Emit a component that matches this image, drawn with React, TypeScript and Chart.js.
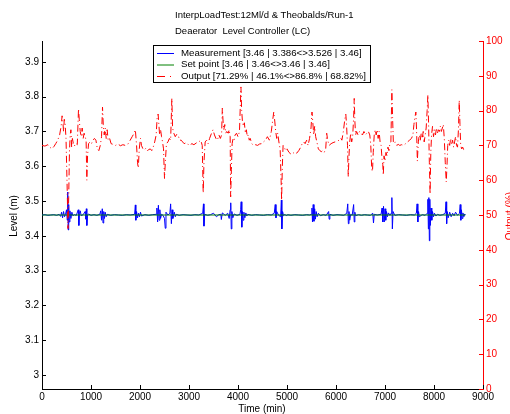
import React, { useEffect, useRef } from "react";
import { Chart, registerables } from "chart.js";

Chart.register(...registerables);

const titleLines = ["InterpLoadTest:12Ml/d & Theobalds/Run-1", "Deaerator  Level Controller (LC)"];
const legendLabels = [
  "Measurement [3.46 | 3.386<>3.526 | 3.46]",
  "Set point [3.46 | 3.46<>3.46 | 3.46]",
  "Output [71.29% | 46.1%<>86.8% | 68.82%]",
];
const leftTicks = [3, 3.1, 3.2, 3.3, 3.4, 3.5, 3.6, 3.7, 3.8, 3.9];

// Output (%) series
const outTime = [
  0, 60, 120, 160, 200, 240, 280, 320, 360, 390, 410, 425, 440, 455, 470, 490, 510, 530, 545, 560, 575, 590, 605, 620, 640, 660, 690, 720, 745, 760, 780, 800, 820, 840, 860, 880, 900, 915, 930, 950, 980, 1010, 1040, 1070, 1100, 1130, 1160, 1190, 1215, 1235, 1250, 1270, 1290, 1310, 1330, 1350, 1380, 1410, 1450, 1500, 1550, 1600, 1650, 1700, 1750, 1800, 1840, 1880, 1905, 1930, 1950, 1965, 1985, 2010, 2030, 2060, 2090, 2120, 2150, 2180, 2210, 2240, 2270, 2300, 2330, 2350, 2370, 2385, 2400, 2420, 2440, 2460, 2480, 2500, 2520, 2540, 2570, 2600, 2625, 2650, 2665, 2690, 2720, 2750, 2780, 2810, 2840, 2870, 2900, 2950, 3000, 3060,
  3100, 3160, 3200, 3240, 3270, 3290, 3305, 3330, 3360, 3390, 3420, 3460, 3490, 3520, 3550, 3580, 3610, 3640, 3665, 3680, 3695, 3710, 3730, 3750, 3770, 3800, 3820, 3840, 3850, 3865, 3880, 3900, 3920, 3940, 3970, 4000, 4030, 4060, 4075, 4090, 4110, 4130, 4150, 4170, 4190, 4210, 4230, 4250, 4280, 4320, 4360, 4400, 4440, 4480, 4520, 4560, 4600, 4640, 4680, 4710, 4730, 4750, 4770, 4790, 4810, 4840, 4860, 4880, 4890, 4905, 4920, 4945, 4970, 5000, 5040, 5080, 5120, 5160, 5200, 5240, 5280, 5310, 5340, 5370, 5400, 5430, 5460, 5490, 5510, 5525, 5545, 5565, 5585, 5610, 5640, 5670, 5700, 5730, 5760, 5790, 5810, 5830, 5860, 5900, 5940, 5980, 6030, 6060,
  6080, 6100, 6120, 6150, 6180, 6200, 6215, 6235, 6250, 6265, 6280, 6300, 6320, 6340, 6360, 6372, 6385, 6400, 6420, 6450, 6480, 6510, 6540, 6570, 6600, 6630, 6660, 6690, 6710, 6730, 6745, 6760, 6780, 6800, 6820, 6840, 6860, 6880, 6900, 6920, 6940, 6955, 6965, 6980, 7000, 7020, 7040, 7060, 7080, 7100, 7120, 7140, 7155, 7170, 7190, 7210, 7240, 7270, 7300, 7340, 7380, 7420, 7460, 7500, 7540, 7570, 7590, 7610, 7630, 7645, 7660, 7680, 7700, 7720, 7740, 7760, 7780, 7800, 7820, 7840, 7860, 7875, 7890, 7905, 7920, 7935, 7950, 7970, 7990, 8010, 8030, 8050, 8070, 8090, 8110, 8130, 8150, 8170, 8190, 8210, 8230, 8250, 8265, 8280, 8300, 8320, 8340, 8360, 8380, 8400, 8420, 8440, 8460, 8480, 8500, 8515, 8530, 8545, 8565, 8585, 8605, 8625, 8640,
];
const outPct = [
  70.0, 69.8, 70.2, 69.5, 69.0, 69.6, 70.5, 71.5, 73.0, 75.5, 78.5, 77.0, 74.0, 77.5, 76.5, 72.0, 60.0, 46.1, 55.0, 68.0, 73.0, 74.5, 69.5, 72.0, 70.5, 69.8, 70.6, 70.2, 80.5, 77.5, 74.0, 72.5, 75.0, 72.0, 73.5, 72.5, 71.5, 60.0, 67.0, 70.5, 71.0, 70.5, 71.5, 72.0, 71.5, 69.0, 68.5, 70.0, 72.5, 81.0, 76.0, 73.0, 75.0, 72.0, 74.5, 71.5, 72.0, 70.5, 70.3, 70.0, 70.4, 69.9, 70.2, 70.0, 70.3, 71.5, 72.5, 73.5, 74.5, 70.0, 65.0, 63.5, 69.0, 72.0, 70.0, 69.0, 68.7, 69.2, 68.5, 68.8, 69.0, 68.5, 69.5, 71.0, 73.0, 78.0, 79.0, 76.0, 73.0, 74.5, 72.5, 71.0, 69.0, 60.5, 66.0, 70.5, 71.0, 72.0, 71.5, 83.5, 75.0, 73.5, 72.5, 73.2, 72.8, 71.5, 71.5, 71.0, 70.5, 70.8, 70.0, 70.5,
  70.2, 70.8, 71.0, 71.5, 70.0, 56.3, 65.0, 71.0, 71.5, 70.5, 72.0, 73.5, 74.5, 73.0, 72.0, 71.5, 73.0, 72.0, 73.0, 80.7, 77.0, 74.5, 76.0, 73.5, 74.0, 73.5, 74.5, 72.5, 55.2, 63.0, 70.5, 72.0, 71.5, 73.0, 73.5, 72.5, 74.0, 86.8, 80.0, 77.0, 75.5, 76.5, 73.5, 74.5, 72.5, 73.0, 71.5, 72.0, 70.5, 70.0, 70.2, 70.0, 70.4, 70.5, 71.0, 71.5, 72.5, 71.5, 74.0, 77.5, 79.6, 77.0, 74.0, 72.0, 73.5, 70.5, 69.0, 60.0, 54.3, 64.0, 70.0, 69.5, 68.5, 69.0, 68.0, 67.5, 68.0, 67.5, 67.8, 68.5, 69.5, 70.5, 71.0, 70.5, 71.5, 70.0, 72.0, 75.0, 79.6, 77.0, 73.0, 75.5, 72.5, 71.0, 69.0, 68.5, 68.2, 68.5, 68.0, 69.0, 73.5, 71.5, 70.0, 70.5, 70.8, 71.0, 71.2, 71.5,
  71.5, 72.0, 71.5, 74.0, 77.5, 79.0, 76.0, 70.0, 61.0, 67.0, 71.0, 73.5, 71.0, 72.5, 78.0, 83.5, 77.0, 73.0, 74.0, 73.0, 74.0, 73.5, 73.0, 74.0, 73.0, 73.5, 74.0, 73.0, 70.0, 63.0, 62.5, 68.0, 73.0, 74.5, 73.0, 74.5, 72.0, 74.0, 71.0, 70.0, 66.0, 64.5, 61.5, 67.0, 65.5, 68.0, 67.0, 69.5, 68.5, 70.5, 71.0, 86.0, 78.0, 71.0, 70.5, 71.0, 70.0, 70.3, 70.0, 70.2, 70.0, 70.5, 71.0, 71.5, 72.0, 73.0, 76.0, 78.0, 79.6, 74.0, 65.5, 71.0, 73.0, 71.5, 73.5, 72.0, 74.0, 71.0, 73.0, 75.0, 80.0, 84.5, 76.0, 65.0, 56.0, 68.0, 73.0, 75.5, 72.5, 74.5, 73.0, 75.0, 73.5, 74.5, 74.0, 75.5, 74.0, 75.0, 76.0, 72.0, 65.0, 59.5, 64.0, 70.0, 71.5, 70.0, 72.0, 70.5, 71.5, 69.5, 71.0, 72.5, 70.0, 69.5, 75.0, 83.0, 76.0, 70.0, 69.0, 69.5, 68.8, 69.0, 68.82,
];

// Measurement (m) series
const measTime = [
  0, 60, 120, 180, 240, 300, 350, 380, 400, 420, 440, 460, 480, 500, 515, 525, 535, 545, 555, 570, 590, 610, 630, 660, 700, 740, 752, 765, 780, 800, 840, 880, 895, 905, 915, 930, 950, 1000, 1060, 1120, 1180, 1200, 1215, 1230, 1245, 1260, 1275, 1290, 1310, 1330, 1400, 1480, 1560, 1640, 1720, 1800, 1890, 1905, 1915, 1930, 1950, 1970, 1990, 2010, 2030, 2100, 2180, 2260, 2330, 2345, 2360, 2375, 2390, 2405, 2420, 2440, 2470, 2500, 2515, 2530, 2570, 2610, 2625, 2640, 2655, 2670, 2700, 2720, 2740, 2800, 2880, 2960, 3040, 3120, 3200, 3280, 3295, 3305, 3320, 3380, 3440, 3500, 3560, 3610, 3650, 3660, 3680, 3740, 3790, 3820, 3840, 3852, 3862, 3875, 3895, 3920, 3980, 4040, 4055, 4065, 4078, 4090, 4105, 4120, 4140, 4160, 4180, 4200, 4280, 4360, 4440, 4520, 4600, 4680, 4740, 4760, 4775, 4790, 4830, 4870, 4885, 4895, 4910, 4930, 4960, 4990, 5010, 5080, 5160, 5240, 5320, 5400, 5460, 5500, 5510, 5520, 5535, 5550, 5565, 5580, 5595, 5615, 5640, 5680, 5740, 5800, 5850, 5860, 5875, 5940, 6020, 6100, 6160, 6220, 6240, 6252, 6265, 6280, 6300, 6330, 6360, 6372, 6385, 6400, 6460, 6520, 6580, 6640, 6700, 6750, 6765, 6780, 6840, 6920, 6940, 6955, 6970, 6985, 7000, 7015, 7030, 7050, 7070, 7100, 7125, 7140, 7150, 7165, 7200, 7280, 7360, 7440, 7520, 7600, 7640, 7655, 7670, 7685, 7700, 7760, 7820, 7860, 7875, 7885, 7895, 7905, 7915, 7925, 7940, 7955, 7970, 7990, 8010, 8040, 8070, 8120, 8180, 8230, 8245, 8258, 8270, 8290, 8320, 8350, 8380, 8410, 8440, 8480, 8520, 8535, 8548, 8560, 8575, 8590, 8610, 8625, 8640,
];
const measLevel = [
  3.460, 3.461, 3.459, 3.460, 3.461, 3.459, 3.462, 3.456, 3.468, 3.452, 3.470, 3.455, 3.462, 3.475, 3.445, 3.526, 3.417, 3.490, 3.440, 3.472, 3.450, 3.468, 3.458, 3.461, 3.459, 3.475, 3.430, 3.465, 3.472, 3.458, 3.461, 3.470, 3.448, 3.478, 3.430, 3.460, 3.463, 3.459, 3.461, 3.459, 3.462, 3.472, 3.445, 3.478, 3.437, 3.470, 3.450, 3.468, 3.455, 3.462, 3.459, 3.461, 3.460, 3.459, 3.461, 3.460, 3.462, 3.489, 3.445, 3.470, 3.452, 3.465, 3.455, 3.468, 3.457, 3.461, 3.459, 3.461, 3.462, 3.480, 3.440, 3.488, 3.445, 3.475, 3.450, 3.462, 3.459, 3.450, 3.422, 3.468, 3.460, 3.465, 3.492, 3.435, 3.475, 3.450, 3.468, 3.455, 3.462, 3.459, 3.461, 3.460, 3.459, 3.461, 3.460, 3.465, 3.492, 3.428, 3.462, 3.459, 3.461, 3.465, 3.455, 3.461, 3.462, 3.447, 3.466, 3.459, 3.465, 3.450, 3.475, 3.495, 3.420, 3.470, 3.452, 3.463, 3.459, 3.462, 3.475, 3.498, 3.425, 3.470, 3.445, 3.468, 3.452, 3.466, 3.457, 3.462, 3.459, 3.461, 3.460, 3.459, 3.461, 3.460, 3.465, 3.490, 3.452, 3.470, 3.459, 3.455, 3.503, 3.420, 3.470, 3.458, 3.462, 3.457, 3.461, 3.459, 3.461, 3.460, 3.459, 3.461, 3.460, 3.462, 3.480, 3.440, 3.490, 3.442, 3.478, 3.448, 3.470, 3.455, 3.465, 3.458, 3.461, 3.459, 3.470, 3.448, 3.462, 3.459, 3.461, 3.460, 3.459, 3.465, 3.492, 3.435, 3.470, 3.445, 3.462, 3.459, 3.490, 3.440, 3.468, 3.458, 3.461, 3.459, 3.461, 3.460, 3.459, 3.465, 3.437, 3.462, 3.460, 3.462, 3.480, 3.440, 3.485, 3.440, 3.478, 3.445, 3.470, 3.455, 3.466, 3.459, 3.465, 3.510, 3.420, 3.470, 3.459, 3.461, 3.460, 3.459, 3.461, 3.460, 3.465, 3.492, 3.440, 3.470, 3.455, 3.461, 3.459, 3.465, 3.505, 3.420, 3.510, 3.386, 3.505, 3.430, 3.480, 3.445, 3.470, 3.455, 3.465, 3.457, 3.462, 3.459, 3.461, 3.465, 3.498, 3.435, 3.470, 3.452, 3.468, 3.455, 3.465, 3.458, 3.468, 3.459, 3.465, 3.490, 3.445, 3.475, 3.450, 3.466, 3.455, 3.463, 3.460,
];

// Set point (m)
const spTime = [0, 8640];
const spLevel = [3.46, 3.46];

const FONT = "'Liberation Sans', Arial, Helvetica, sans-serif";
const RED = "#ff0000";
const BLUE = "#0000ff";
const GREEN = "#008000";

const decorPlugin = {
  id: "decor",
  afterDraw(chart: any) {
    const ctx = chart.ctx as CanvasRenderingContext2D;
    const { x, y, y1 } = chart.scales;
    const area = chart.chartArea;
    ctx.save();
    // inward tick marks
    ctx.lineWidth = 1;
    ctx.strokeStyle = "#000";
    ctx.beginPath();
    x.ticks.forEach((t: any) => {
      const px = Math.round(x.getPixelForValue(t.value)) + 0.5;
      ctx.moveTo(px, area.bottom);
      ctx.lineTo(px, area.bottom - 4);
    });
    y.ticks.forEach((t: any) => {
      const py = Math.round(y.getPixelForValue(t.value)) + 0.5;
      ctx.moveTo(area.left, py);
      ctx.lineTo(area.left + 4, py);
    });
    ctx.stroke();
    ctx.strokeStyle = RED;
    ctx.beginPath();
    y1.ticks.forEach((t: any) => {
      const py = Math.round(y1.getPixelForValue(t.value)) + 0.5;
      ctx.moveTo(area.right, py);
      ctx.lineTo(area.right - 4, py);
    });
    ctx.stroke();

    // title
    ctx.fillStyle = "#000";
    ctx.font = `9.5px ${FONT}`;
    ctx.textAlign = "left";
    ctx.textBaseline = "middle";
    ctx.fillText(titleLines[0], 175, 15);
    ctx.fillText(titleLines[1], 175, 31);

    // axis titles
    ctx.font = `10px ${FONT}`;
    ctx.textAlign = "center";
    ctx.fillText("Time (min)", 262, 409);
    ctx.save();
    ctx.translate(14, 216);
    ctx.rotate(-Math.PI / 2);
    ctx.fillText("Level (m)", 0, 0);
    ctx.restore();
    ctx.save();
    ctx.fillStyle = RED;
    ctx.translate(510, 216);
    ctx.rotate(-Math.PI / 2);
    ctx.fillText("Output (%)", 0, 0);
    ctx.restore();

    // legend box
    ctx.fillStyle = "#fff";
    ctx.fillRect(153.5, 45.5, 217, 37);
    ctx.strokeStyle = "#000";
    ctx.lineWidth = 1;
    ctx.strokeRect(153.5, 45.5, 217, 37);
    const rows = [53, 64.5, 76];
    const colors = [BLUE, GREEN, RED];
    rows.forEach((ry, i) => {
      ctx.strokeStyle = colors[i];
      ctx.setLineDash(i === 2 ? [8, 5, 1, 5] : []);
      ctx.beginPath();
      ctx.moveTo(157, ry + 0.5);
      ctx.lineTo(174, ry + 0.5);
      ctx.stroke();
      ctx.setLineDash([]);
      ctx.fillStyle = "#000";
      ctx.font = `9.7px ${FONT}`;
      ctx.textAlign = "left";
      ctx.textBaseline = "middle";
      ctx.fillText(legendLabels[i], 181, ry);
    });
    ctx.restore();
  },
};

export default function App() {
  const ref = useRef<HTMLCanvasElement | null>(null);
  useEffect(() => {
    document.body.style.margin = "0";
    Chart.defaults.font.family = FONT;
    const toPts = (xs: number[], ys: number[]) => xs.map((t, i) => ({ x: t, y: ys[i] }));
    const chart = new Chart(ref.current as HTMLCanvasElement, {
      type: "line",
      data: {
        datasets: [
          {
            label: legendLabels[2],
            data: toPts(outTime, outPct),
            yAxisID: "y1",
            borderColor: RED,
            borderWidth: 1,
            borderDash: [7, 3, 1, 3],
            pointRadius: 0,
            tension: 0,
            order: 0,
          },
          {
            label: legendLabels[1],
            data: toPts(spTime, spLevel),
            yAxisID: "y",
            borderColor: GREEN,
            borderWidth: 1,
            pointRadius: 0,
            tension: 0,
            order: 1,
          },
          {
            label: legendLabels[0],
            data: toPts(measTime, measLevel),
            yAxisID: "y",
            borderColor: BLUE,
            borderWidth: 1,
            pointRadius: 0,
            tension: 0,
            order: 2,
          },
        ],
      },
      options: {
        animation: false,
        responsive: true,
        maintainAspectRatio: false,
        layout: { padding: { top: 41, left: 0, right: 0, bottom: 0 } },
        plugins: { legend: { display: false }, tooltip: { enabled: false }, title: { display: false } },
        scales: {
          x: {
            type: "linear",
            min: 0,
            max: 9000,
            ticks: {
              stepSize: 1000,
              color: "#000",
              font: { size: 10 },
              padding: 2,
              maxRotation: 0,
              autoSkip: false,
              callback: (v: any) => String(Math.round(Number(v))),
            },
            grid: { display: false, drawTicks: false },
            border: { display: true, color: "#000", width: 1 },
            afterFit: (s: any) => {
              s.height = 25;
            },
          },
          y: {
            type: "linear",
            position: "left",
            min: 2.96,
            max: 3.96,
            afterBuildTicks: (s: any) => {
              s.ticks = leftTicks.map((v) => ({ value: v }));
            },
            ticks: {
              color: "#000",
              font: { size: 10 },
              padding: 3,
              callback: (v: any) => String(Number(Number(v).toFixed(1))),
            },
            grid: { display: false, drawTicks: false },
            border: { display: true, color: "#000", width: 1 },
            afterFit: (s: any) => {
              s.width = 42;
            },
          },
          y1: {
            type: "linear",
            position: "right",
            min: 0,
            max: 100,
            ticks: { stepSize: 10, color: RED, font: { size: 10 }, padding: 3 },
            grid: { display: false, drawTicks: false },
            border: { display: true, color: RED, width: 1 },
            afterFit: (s: any) => {
              s.width = 27;
            },
          },
        },
      },
      plugins: [decorPlugin],
    });
    return () => chart.destroy();
  }, []);
  return (
    <div style={{ position: "relative", width: 510, height: 414 }}>
      <canvas ref={ref} />
    </div>
  );
}
